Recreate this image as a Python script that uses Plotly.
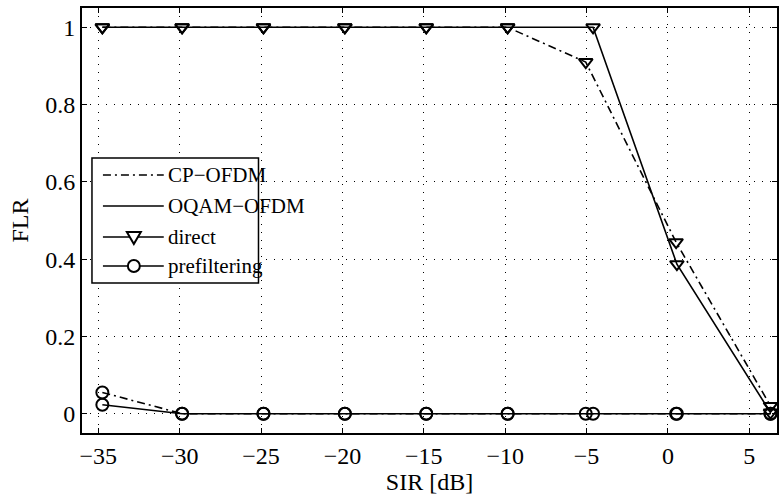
import plotly.graph_objects as go

# Data
sir_cp = [-34.75, -29.85, -24.85, -19.85, -14.85, -9.85, -5.05, 0.5, 6.3]
sir_oqam = [-34.75, -29.85, -24.85, -19.85, -14.85, -9.85, -4.6, 0.55, 6.3]
cp_direct = [1, 1, 1, 1, 1, 1, 0.91, 0.444, 0.02]
oqam_direct = [1, 1, 1, 1, 1, 1, 1, 0.387, 0.003]
cp_prefilt = [0.055, 0, 0, 0, 0, 0, 0, 0, 0]
oqam_prefilt = [0.023, 0, 0, 0, 0, 0, 0, 0, 0]

legend_names = ["CP−OFDM", "OQAM−OFDM", "direct", "prefiltering"]

FONT = "Liberation Serif"
FS = 24
LFS = 21
DASHDOT = "8px,4px,2px,4px"
W, H = 779, 497
ML, MR, MT, MB = 82, 0, 8, 64
PW, PH = W - ML - MR, H - MT - MB

fig = go.Figure()

def add(x, y, dash, symbol):
    fig.add_trace(go.Scatter(
        x=x, y=y, mode="lines+markers", showlegend=False,
        line=dict(color="black", width=1.6, dash=dash),
        marker=dict(symbol=symbol, size=12, color="black",
                    line=dict(color="black", width=2)),
    ))

add(sir_cp, cp_direct, DASHDOT, "triangle-down-open")
add(sir_oqam, oqam_direct, "solid", "triangle-down-open")
add(sir_cp, cp_prefilt, DASHDOT, "circle-open")
add(sir_oqam, oqam_prefilt, "solid", "circle-open")

# --- manual legend (pixel positions converted to paper coords) ---
def px(xp):
    return (xp - ML) / PW

def py(yp):
    return (MT + PH - yp) / PH

shapes = []
annotations = []
shapes.append(dict(type="rect", xref="paper", yref="paper",
                   x0=px(92), x1=px(259), y0=py(283), y1=py(158),
                   line=dict(color="black", width=1.5), fillcolor="white",
                   layer="above"))
rows = [175, 206, 237, 266]
styles = [(DASHDOT, None), ("solid", None), ("solid", "tri"), ("solid", "circ")]
for yrow, name, (dash, mk) in zip(rows, legend_names, styles):
    shapes.append(dict(type="line", xref="paper", yref="paper",
                       x0=px(103), x1=px(164), y0=py(yrow), y1=py(yrow),
                       line=dict(color="black", width=1.6, dash=dash),
                       layer="above"))
    cx = 134
    if mk == "circ":
        r = 6
        shapes.append(dict(type="circle", xref="paper", yref="paper",
                           x0=px(cx - r), x1=px(cx + r),
                           y0=py(yrow + r), y1=py(yrow - r),
                           line=dict(color="black", width=2),
                           fillcolor="white", layer="above"))
    elif mk == "tri":
        path = "M {:.5f},{:.5f} L {:.5f},{:.5f} L {:.5f},{:.5f} Z".format(
            px(cx - 7), py(yrow - 5), px(cx + 7), py(yrow - 5),
            px(cx), py(yrow + 7))
        shapes.append(dict(type="path", xref="paper", yref="paper", path=path,
                           line=dict(color="black", width=2),
                           fillcolor="white", layer="above"))
    annotations.append(dict(xref="paper", yref="paper", x=px(166), y=py(yrow),
                            xanchor="left", yanchor="middle", text=name,
                            showarrow=False,
                            font=dict(family=FONT, size=LFS, color="black")))

axis_common = dict(
    showline=True, linecolor="black", linewidth=2, mirror="ticks",
    ticks="inside", ticklen=5, tickwidth=1, tickcolor="black",
    showgrid=True, gridcolor="black", gridwidth=1, griddash="1px,7px",
    zeroline=False, tickfont=dict(family=FONT, size=FS, color="black"),
)

fig.update_layout(
    width=W, height=H,
    margin=dict(l=ML, r=MR, t=MT, b=MB),
    plot_bgcolor="white", paper_bgcolor="white",
    font=dict(family=FONT, size=FS, color="black"),
    showlegend=False,
    xaxis=dict(range=[-36, 6.7], tick0=-35, dtick=5,
               title=dict(text="SIR [dB]", standoff=2,
                          font=dict(family=FONT, size=FS)),
               **axis_common),
    yaxis=dict(range=[-0.05, 1.05], tick0=0, dtick=0.2,
               title=dict(text="FLR", standoff=10,
                          font=dict(family=FONT, size=FS)),
               **axis_common),
    shapes=shapes,
    annotations=annotations,
)

fig.write_html("out.html")
